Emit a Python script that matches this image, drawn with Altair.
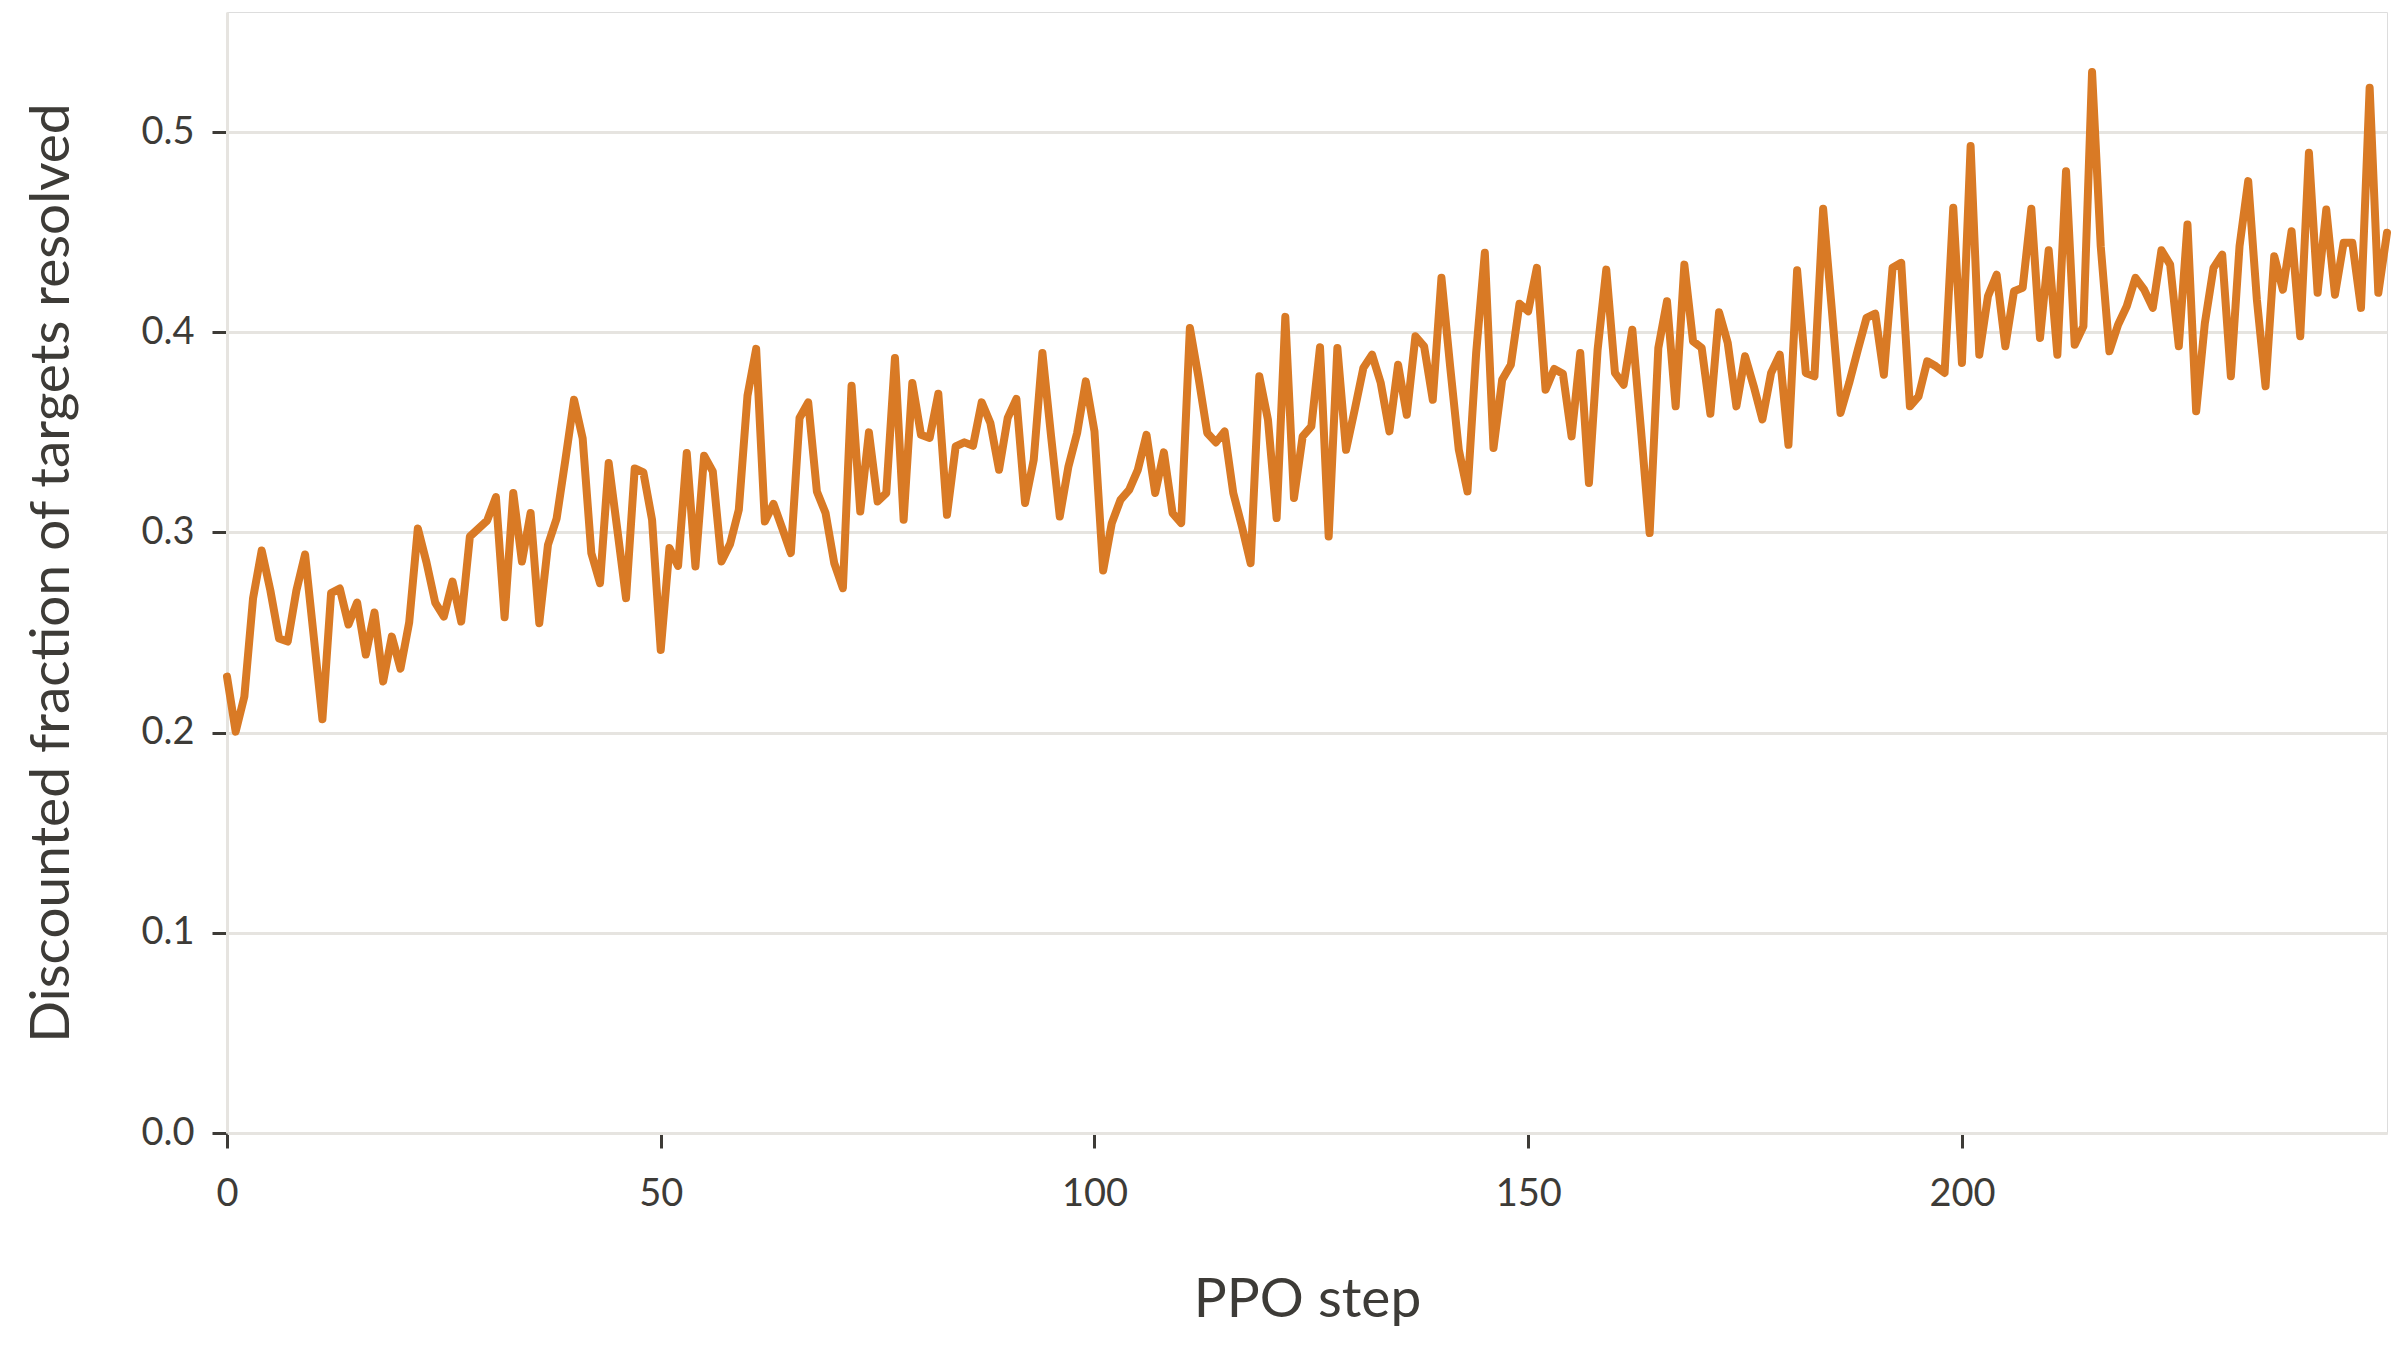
import altair as alt
import pandas as pd

steps = list(range(250))
values = [
    0.228, 0.2005, 0.218, 0.267, 0.291, 0.271, 0.247, 0.2455, 0.271, 0.289,
    0.248, 0.2067, 0.2697, 0.272, 0.254, 0.265, 0.239, 0.26, 0.2255, 0.248,
    0.232, 0.255, 0.302, 0.285, 0.265, 0.258, 0.2755, 0.2555, 0.298, 0.302,
    0.306, 0.3177, 0.2577, 0.3197, 0.2855, 0.3097, 0.2547, 0.2938, 0.307, 0.336,
    0.3663, 0.347, 0.2897, 0.2747, 0.3347, 0.3013, 0.2672, 0.332, 0.33, 0.3063,
    0.2413, 0.2922, 0.2833, 0.3397, 0.283, 0.3383, 0.3305, 0.2855, 0.2943, 0.3113,
    0.3683, 0.3917, 0.3055, 0.3143, 0.3022, 0.2897, 0.3572, 0.365, 0.3205, 0.3097,
    0.2847, 0.2722, 0.3733, 0.3105, 0.35, 0.3155, 0.3197, 0.3872, 0.3063, 0.3747,
    0.3488, 0.3472, 0.3693, 0.3088, 0.343, 0.345, 0.3433, 0.365, 0.3547, 0.3313,
    0.3572, 0.3667, 0.3147, 0.3363, 0.3897, 0.348, 0.308, 0.333, 0.3497, 0.3755,
    0.3505, 0.281, 0.3047, 0.3163, 0.3213, 0.3313, 0.3488, 0.3197, 0.34, 0.3097,
    0.3047, 0.4022, 0.3772, 0.3497, 0.345, 0.3505, 0.3197, 0.303, 0.2847, 0.378,
    0.3563, 0.3072, 0.4077, 0.3172, 0.348, 0.353, 0.3925, 0.298, 0.3922, 0.3413,
    0.3613, 0.3822, 0.3888, 0.3747, 0.3505, 0.3838, 0.3588, 0.398, 0.393, 0.3663,
    0.4272, 0.383, 0.3413, 0.3205, 0.3897, 0.4397, 0.3422, 0.3763, 0.3838, 0.4143,
    0.4105, 0.4322, 0.3713, 0.3817, 0.3793, 0.348, 0.3897, 0.3247, 0.3913, 0.4313,
    0.3797, 0.3738, 0.4013, 0.3513, 0.2997, 0.3922, 0.4155, 0.363, 0.4338, 0.3955,
    0.3922, 0.3593, 0.41, 0.3947, 0.363, 0.388, 0.373, 0.3565, 0.3797, 0.3888,
    0.3438, 0.431, 0.3797, 0.378, 0.4617, 0.4113, 0.3597, 0.3747, 0.3913, 0.4072,
    0.4093, 0.3788, 0.4322, 0.4347, 0.363, 0.368, 0.3855, 0.383, 0.3797, 0.4622,
    0.3847, 0.493, 0.3888, 0.418, 0.4288, 0.393, 0.4205, 0.4222, 0.4617, 0.3972,
    0.441, 0.3888, 0.4805, 0.3938, 0.403, 0.53, 0.443, 0.3905, 0.4038, 0.413,
    0.4272, 0.4213, 0.4122, 0.441, 0.4338, 0.393, 0.4538, 0.3605, 0.4045, 0.4322,
    0.4388, 0.378, 0.443, 0.4755, 0.4163, 0.373, 0.438, 0.4213, 0.4505, 0.398,
    0.4897, 0.4197, 0.4613, 0.4188, 0.4447, 0.4447, 0.4122, 0.5222, 0.4197, 0.4497,
]

df = pd.DataFrame({"step": steps, "value": values})

FONT = "Lato"
TEXT = "#3d3b37"
GRID = "#e6e4e0"

chart = alt.Chart(df).mark_line(
    color="#d97a25", strokeWidth=8, strokeJoin="round", strokeCap="round"
).encode(
    x=alt.X("step:Q", title="PPO step",
            scale=alt.Scale(domain=[0, 249], nice=False, zero=False),
            axis=alt.Axis(values=[0, 50, 100, 150, 200], grid=False,
                          labelFlush=False,
                          domain=True, domainColor=GRID, domainWidth=3,
                          tickColor=TEXT, tickSize=15, tickWidth=3,
                          labelFontSize=38, labelPadding=27, labelColor=TEXT,
                          labelFont=FONT,
                          titleFontSize=55, titleFont=FONT, titleColor=TEXT,
                          titleFontWeight="normal", titlePadding=60)),
    y=alt.Y("value:Q", title="Discounted fraction of targets resolved",
            scale=alt.Scale(domain=[0, 0.56], nice=False),
            axis=alt.Axis(values=[0, 0.1, 0.2, 0.3, 0.4, 0.5], format=".1f",
                          labelFlush=False,
                          grid=True, gridColor=GRID, gridWidth=3,
                          domain=True, domainColor=GRID, domainWidth=3,
                          tickColor=TEXT, tickSize=15, tickWidth=3,
                          labelFontSize=38, labelPadding=18, labelColor=TEXT,
                          labelFont=FONT,
                          titleFontSize=55, titleFont=FONT, titleColor=TEXT,
                          titleFontWeight="normal", titlePadding=60)),
).properties(
    width=2160, height=1121,
    autosize=alt.AutoSizeParams(type="none"),
    padding={"left": 227, "top": 12, "right": 13, "bottom": 217},
).configure_view(
    stroke=None
).configure(
    background="white"
)

chart.save("out.html", embed_options={"renderer": "svg", "actions": False})
